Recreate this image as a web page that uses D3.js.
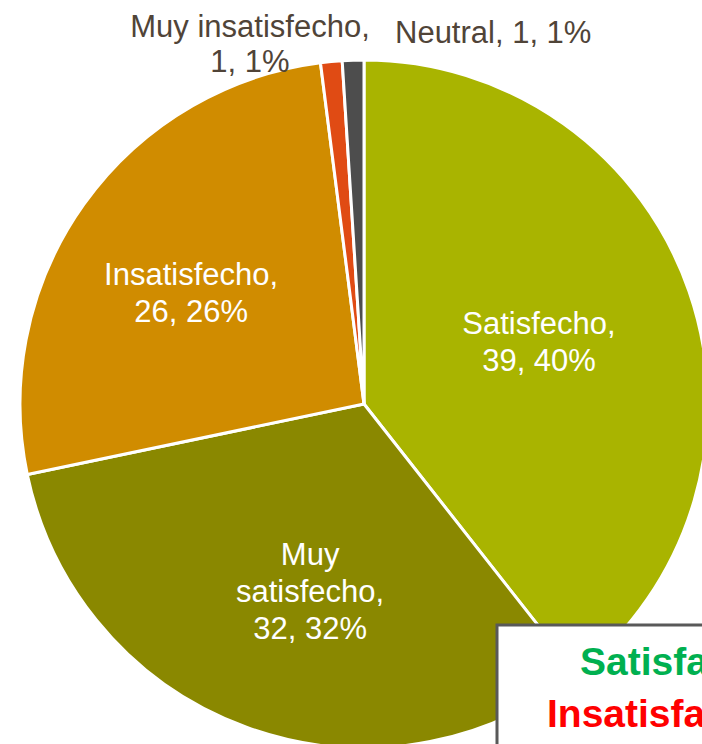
<!DOCTYPE html>
<html>
<head>
<meta charset="utf-8">
<script src="https://cdn.jsdelivr.net/npm/d3@7"></script>
<style>
  html, body { margin: 0; padding: 0; background: #fff; overflow: hidden; }
  svg { display: block; font-family: "Liberation Sans", Arial, sans-serif; }
</style>
</head>
<body>
<div id="chart"></div>
<script>
// data
const categories = ["Satisfecho", "Muy satisfecho", "Insatisfecho", "Muy insatisfecho", "Neutral"];
const counts = [39, 32, 26, 1, 1];
const percents = ["40%", "32%", "26%", "1%", "1%"];
const sliceColors = ["#A9B400", "#8A8800", "#D08C00", "#E04B14", "#4D4D4D"];
const summaryLines = ["Satisfacción: 72%", "Insatisfacción: 27%"];
const summaryColors = ["#00B050", "#FF0000"];

const width = 702, height = 744;
const cx = 364, cy = 404, radius = 344;

const svg = d3.select("#chart").append("svg")
  .attr("width", width)
  .attr("height", height);

const g = svg.append("g")
  .attr("transform", "translate(" + cx + "," + cy + ")");

const pie = d3.pie().sort(null).value(d => d.count);
const arc = d3.arc().innerRadius(0).outerRadius(radius);
const labelArc = d3.arc().innerRadius(radius * 0.56).outerRadius(radius * 0.56);

const rows = categories.map((c, i) => ({name: c, count: counts[i], pct: percents[i], color: sliceColors[i]}));
const arcs = pie(rows);

g.selectAll("path.slice")
  .data(arcs)
  .enter()
  .append("path")
    .attr("class", "slice")
    .attr("d", arc)
    .attr("fill", d => d.data.color)
    .attr("stroke", "#fff")
    .attr("stroke-width", 3)
    .attr("stroke-linejoin", "round");

// inside labels (white), split into lines like excel does
const insideLines = {
  "Satisfecho": ["Satisfecho,", "39, 40%"],
  "Muy satisfecho": ["Muy", "satisfecho,", "32, 32%"],
  "Insatisfecho": ["Insatisfecho,", "26, 26%"]
};
// small nudges from the centroid to where excel put them
const nudge = {
  "Satisfecho": [-7, 0],
  "Muy satisfecho": [12, 6],
  "Insatisfecho": [-16, 0]
};
const lineH = 37;

arcs.filter(d => insideLines[d.data.name]).forEach(d => {
  const lines = insideLines[d.data.name];
  const c = labelArc.centroid(d);
  const n = nudge[d.data.name];
  const x = c[0] + n[0], y = c[1] + n[1];
  const t = g.append("text")
    .attr("text-anchor", "middle")
    .attr("fill", "#fff")
    .style("font-size", "31px");
  lines.forEach((ln, k) => {
    t.append("tspan")
      .attr("x", x)
      .attr("y", y + 11 + (k - (lines.length - 1) / 2) * lineH)
      .text(ln);
  });
});

// outside labels
const outText = "#504438";
const muyIns = svg.append("text")
  .attr("text-anchor", "middle")
  .attr("fill", outText)
  .style("font-size", "31px");
muyIns.append("tspan").attr("x", 250).attr("y", 37).text(categories[3] + ",");
muyIns.append("tspan").attr("x", 250).attr("y", 72).text(counts[3] + ", " + percents[3]);

svg.append("text")
  .attr("x", 395)
  .attr("y", 43)
  .attr("fill", outText)
  .style("font-size", "31px")
  .text(categories[4] + ", " + counts[4] + ", " + percents[4]);

// summary box at bottom right (runs off the edge)
svg.append("rect")
  .attr("x", 497)
  .attr("y", 625)
  .attr("width", 260)
  .attr("height", 160)
  .attr("fill", "#fff")
  .attr("stroke", "#595959")
  .attr("stroke-width", 3);

svg.append("text")
  .attr("x", 580).attr("y", 675)
  .attr("fill", summaryColors[0])
  .style("font-size", "39px").style("font-weight", "bold")
  .text(summaryLines[0]);
svg.append("text")
  .attr("x", 547).attr("y", 727)
  .attr("fill", summaryColors[1])
  .style("font-size", "39px").style("font-weight", "bold")
  .text(summaryLines[1]);
</script>
</body>
</html>
